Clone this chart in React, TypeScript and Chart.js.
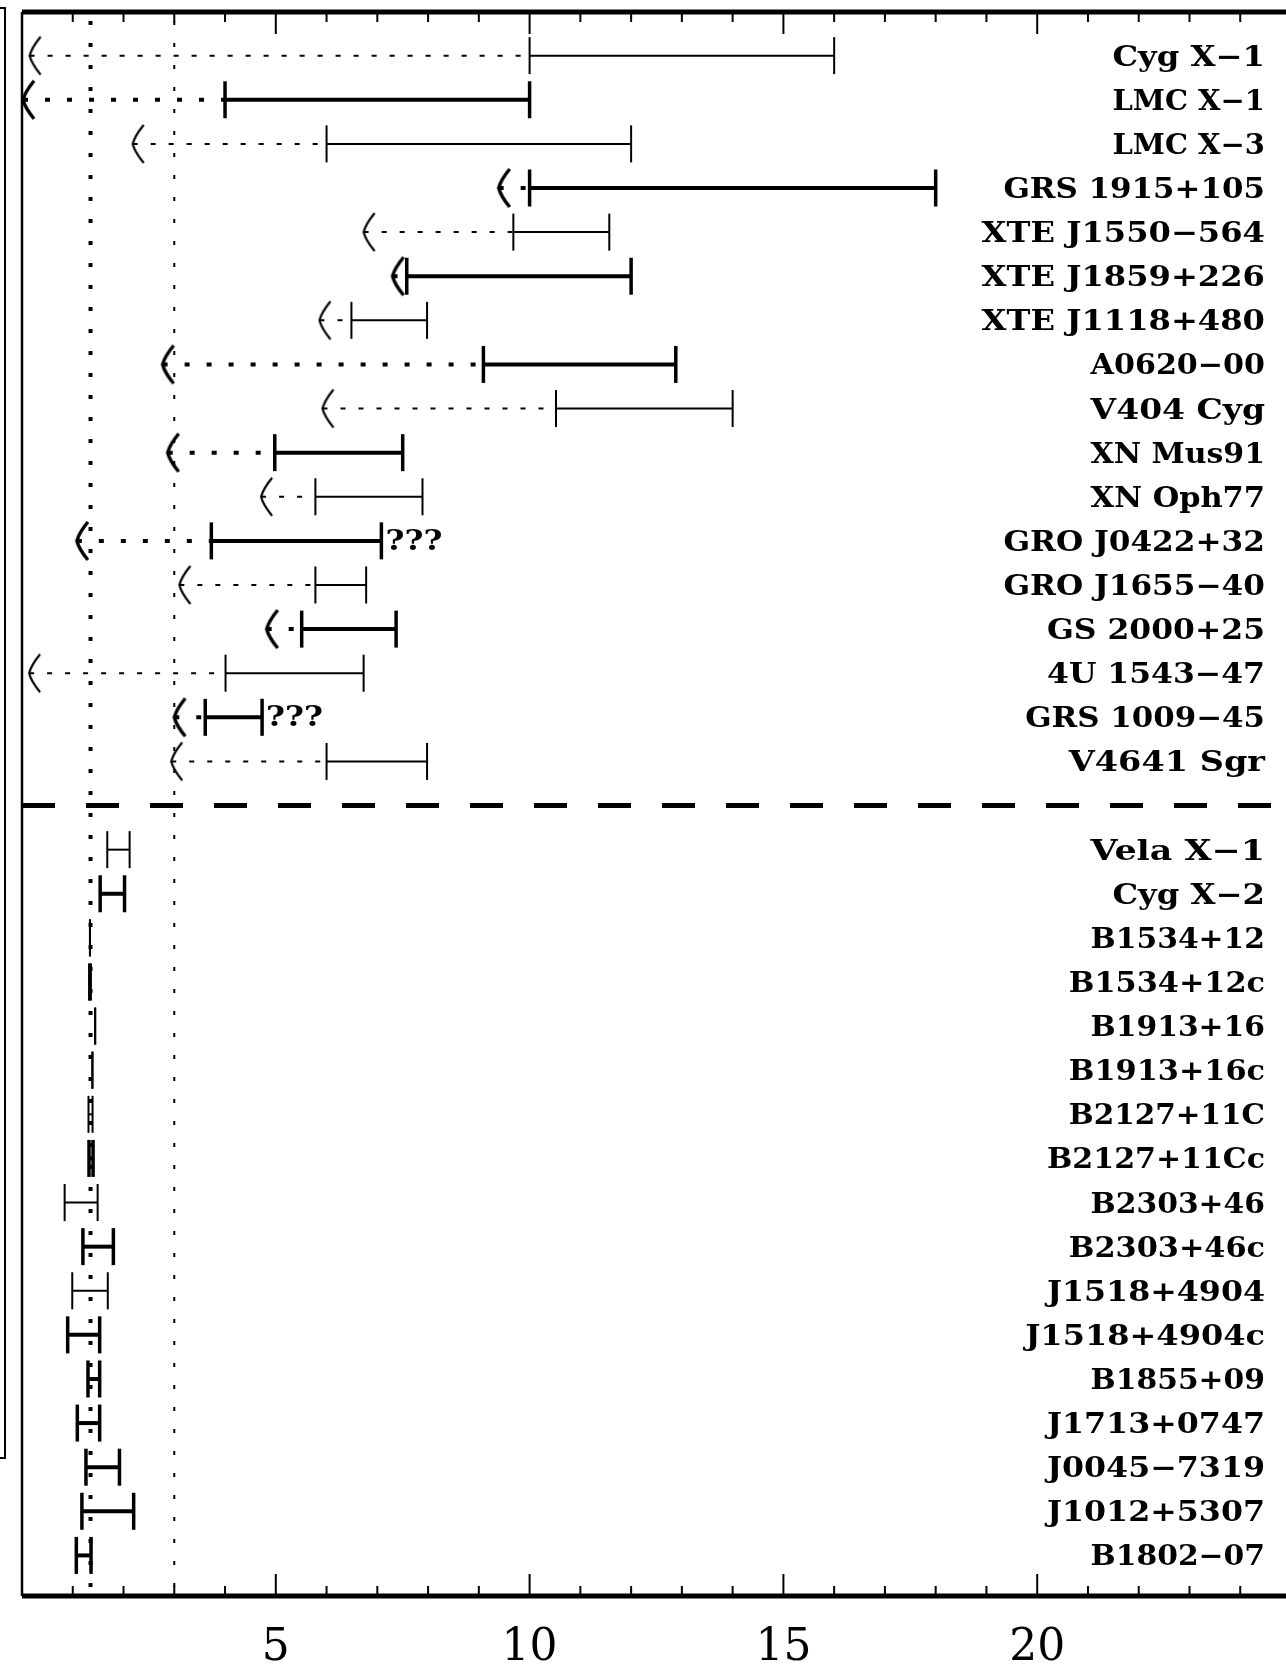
import React, { useEffect, useRef } from 'react';
import { Chart, registerables } from 'chart.js';

Chart.register(...registerables);

// ---------- Black-hole candidates (upper block) ----------
const bhNames = [
  'Cyg X−1', 'LMC X−1', 'LMC X−3', 'GRS 1915+105', 'XTE J1550−564', 'XTE J1859+226',
  'XTE J1118+480', 'A0620−00', 'V404 Cyg', 'XN Mus91', 'XN Oph77', 'GRO J0422+32',
  'GRO J1655−40', 'GS 2000+25', '4U 1543−47', 'GRS 1009−45', 'V4641 Sgr',
];
const bhLimit = [0.15, 0.02, 2.18, 9.39, 6.73, 7.3, 5.86, 2.77, 5.92, 2.87, 4.71, 1.08, 3.1, 4.82, 0.14, 3.0, 2.94];
const bhLow = [10.0, 4.0, 6.0, 10.0, 9.68, 7.58, 6.49, 9.09, 10.52, 4.98, 5.78, 3.73, 5.78, 5.51, 4.01, 3.61, 6.0];
const bhHigh = [16.0, 10.0, 12.0, 18.0, 11.57, 12.0, 7.98, 12.88, 14.0, 7.5, 7.89, 7.08, 6.78, 7.37, 6.73, 4.73, 7.98];
const bhBold = [false, true, false, true, false, true, false, true, false, true, false, true, false, true, false, true, false];
const bhUncertain = [false, false, false, false, false, false, false, false, false, false, false, true, false, false, false, true, false];

// ---------- Neutron stars (lower block) ----------
const nsNames = [
  'Vela X−1', 'Cyg X−2', 'B1534+12', 'B1534+12c', 'B1913+16', 'B1913+16c', 'B2127+11C',
  'B2127+11Cc', 'B2303+46', 'B2303+46c', 'J1518+4904', 'J1518+4904c', 'B1855+09',
  'J1713+0747', 'J0045−7319', 'J1012+5307', 'B1802−07',
];
const nsLow = [1.68, 1.54, 1.338, 1.337, 1.44, 1.386, 1.31, 1.32, 0.84, 1.2, 0.99, 0.9, 1.3, 1.09, 1.26, 1.18, 1.07];
const nsHigh = [2.12, 2.02, 1.34, 1.341, 1.443, 1.388, 1.39, 1.4, 1.49, 1.8, 1.69, 1.53, 1.53, 1.53, 1.92, 2.2, 1.36];
const nsBold = [false, true, false, true, false, false, false, true, false, true, false, true, true, true, true, true, true];

// ---------- Reference lines & axis ----------
const refMasses = [1.35, 3.0];
const refBold = [true, false];
const xTickValues = [5, 10, 15, 20];
const xTickLabels = ['5', '10', '15', '20'];
const X_MIN = 0;
const X_MAX = 25;
const Y_MIN = -0.99;
const Y_MAX = 34.92;

const separatorRow = bhNames.length; // 17
const nsRowStart = bhNames.length + 1; // 18

function makeArrow(lw: number): HTMLCanvasElement {
  const c = document.createElement('canvas');
  c.width = 32;
  c.height = 44;
  const g = c.getContext('2d')!;
  g.strokeStyle = '#000';
  g.lineWidth = lw;
  g.lineJoin = 'miter';
  g.beginPath();
  g.moveTo(16 + 11, 3);
  g.quadraticCurveTo(18, 14, 16, 22);
  g.quadraticCurveTo(18, 30, 16 + 11, 41);
  g.stroke();
  return c;
}

const decorPlugin = {
  id: 'decor',
  afterDatasetsDraw(chart: any) {
    const { ctx, chartArea: a, scales } = chart;
    const x = scales.x;
    const y = scales.y;
    ctx.save();
    ctx.fillStyle = '#000';
    ctx.strokeStyle = '#000';

    // object names, right aligned
    const labelRight = 1265;
    const charAdvance = 21.8;
    ctx.font = 'bold 28px "DejaVu Serif"';
    ctx.textAlign = 'right';
    ctx.textBaseline = 'alphabetic';
    const drawFitted = (text: string, px: number, py: number, adv: number) => {
      const w = ctx.measureText(text).width;
      const sx = (text.length * adv) / w;
      ctx.save();
      ctx.translate(px, py);
      ctx.scale(sx, 1);
      ctx.fillText(text, 0, 0);
      ctx.restore();
    };
    bhNames.forEach((n, i) => drawFitted(n, labelRight, y.getPixelForValue(i) + 10, charAdvance));
    nsNames.forEach((n, j) => drawFitted(n, labelRight, y.getPixelForValue(nsRowStart + j) + 10, charAdvance));

    // "???" markers
    ctx.textAlign = 'left';
    bhUncertain.forEach((u, i) => {
      if (!u) return;
      const px = x.getPixelForValue(bhHigh[i]) + 4;
      const py = y.getPixelForValue(i) + 9;
      ctx.save();
      ctx.translate(px, py);
      const w = ctx.measureText('???').width;
      ctx.scale(57 / w, 1);
      ctx.fillText('???', 0, 0);
      ctx.restore();
    });

    // frame
    ctx.lineWidth = 5;
    ctx.beginPath();
    ctx.moveTo(a.left, a.top);
    ctx.lineTo(a.right + 20, a.top);
    ctx.moveTo(a.left, a.bottom);
    ctx.lineTo(a.right + 20, a.bottom);
    ctx.stroke();
    ctx.lineWidth = 2.5;
    ctx.beginPath();
    ctx.moveTo(a.left, a.top);
    ctx.lineTo(a.left, a.bottom);
    ctx.stroke();

    // inward ticks
    ctx.lineWidth = 2;
    ctx.beginPath();
    for (let v = X_MIN + 1; v < X_MAX; v++) {
      const px = x.getPixelForValue(v);
      const len = v % 5 === 0 ? 22 : 10;
      ctx.moveTo(px, a.top);
      ctx.lineTo(px, a.top + len);
      ctx.moveTo(px, a.bottom);
      ctx.lineTo(px, a.bottom - len);
    }
    ctx.stroke();

    // tick labels
    ctx.font = '44px "DejaVu Serif"';
    ctx.textAlign = 'center';
    ctx.textBaseline = 'alphabetic';
    xTickValues.forEach((v, k) => {
      ctx.fillText(xTickLabels[k], x.getPixelForValue(v), a.bottom + 64);
    });
    ctx.restore();
  },
};

export default function App() {
  const ref = useRef<HTMLCanvasElement | null>(null);

  useEffect(() => {
    const canvas = ref.current;
    if (!canvas) return;
    const arrowThin = makeArrow(2.2);
    const arrowBold = makeArrow(3.4);

    const datasets: any[] = [];

    const errorBar = (lo: number, hi: number, row: number, bold: boolean) => ({
      data: [{ x: lo, y: row }, { x: hi, y: row }],
      borderColor: '#000',
      borderWidth: bold ? 4 : 2,
      borderCapStyle: 'butt',
      pointStyle: 'line',
      pointRotation: 90,
      pointRadius: 18.5,
      pointHoverRadius: 18.5,
      pointBorderWidth: bold ? 3.5 : 2,
      pointBorderColor: '#000',
      pointBackgroundColor: '#000',
      fill: false,
      tension: 0,
      clip: false,
    });

    bhNames.forEach((_, i) => {
      datasets.push(errorBar(bhLow[i], bhHigh[i], i, bhBold[i]));
      const img = bhBold[i] ? arrowBold : arrowThin;
      datasets.push({
        data: [{ x: bhLimit[i], y: i }, { x: bhLow[i], y: i }],
        borderColor: '#000',
        borderWidth: bhBold[i] ? 4 : 2,
        borderDash: bhBold[i] ? [5, 17] : [5, 13],
        borderCapStyle: 'butt',
        pointStyle: (c: any) => (c.dataIndex === 0 ? img : 'circle'),
        pointRadius: (c: any) => (c.dataIndex === 0 ? 2 : 0),
        pointHoverRadius: (c: any) => (c.dataIndex === 0 ? 2 : 0),
        pointBorderWidth: 0,
        fill: false,
        tension: 0,
        clip: false,
      });
    });

    nsNames.forEach((_, j) => {
      datasets.push(errorBar(nsLow[j], nsHigh[j], nsRowStart + j, nsBold[j]));
    });

    // separator between the two groups
    datasets.push({
      data: [{ x: X_MIN, y: separatorRow }, { x: X_MAX, y: separatorRow }],
      borderColor: '#000',
      borderWidth: 5,
      borderDash: [33, 31],
      borderCapStyle: 'butt',
      pointRadius: 0,
      fill: false,
      clip: false,
    });

    // vertical reference masses
    refMasses.forEach((m, k) => {
      datasets.push({
        data: [{ x: m, y: Y_MIN }, { x: m, y: Y_MAX }],
        borderColor: '#000',
        borderWidth: refBold[k] ? 4 : 2,
        borderDash: [4, 18],
        borderDashOffset: -9,
        borderCapStyle: 'butt',
        pointRadius: 0,
        fill: false,
        clip: false,
      });
    });

    const chart = new Chart(canvas, {
      type: 'line',
      data: { datasets },
      options: {
        animation: false,
        responsive: false,
        devicePixelRatio: 1,
        events: [],
        layout: { autoPadding: false, padding: { left: 22, right: 9, top: 12, bottom: 69 } },
        plugins: { legend: { display: false }, tooltip: { enabled: false } },
        scales: {
          x: { type: 'linear', min: X_MIN, max: X_MAX, display: false },
          y: { type: 'linear', min: Y_MIN, max: Y_MAX, reverse: true, display: false },
        },
      },
      plugins: [decorPlugin],
    } as any);

    return () => chart.destroy();
  }, []);

  return (
    <div
      style={{
        position: 'fixed',
        left: 0,
        top: 0,
        width: 1286,
        height: 1665,
        overflow: 'hidden',
        background: '#fff',
      }}
    >
      <canvas ref={ref} width={1300} height={1665} style={{ display: 'block', width: 1300, height: 1665 }} />
      <div
        style={{
          position: 'absolute',
          left: -20,
          top: 7,
          width: 22,
          height: 1448,
          border: '2px solid #000',
        }}
      />
    </div>
  );
}
